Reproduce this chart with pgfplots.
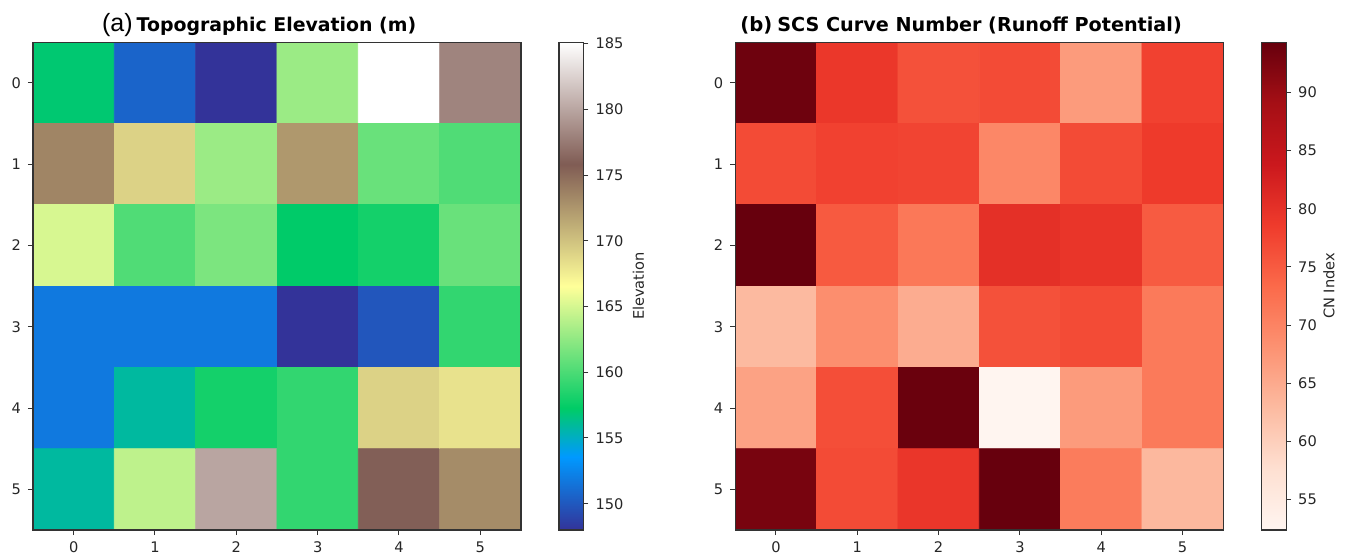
\documentclass[border=0pt]{standalone}
\usepackage{pgfplots}
\usepackage{pgfplotstable}
\pgfplotsset{compat=1.18}
\usepackage{fontspec}
\setmainfont{DejaVu Sans}
\newfontfamily\arialfont{Liberation Sans}

\pgfplotsset{
  colormap={terrain}{rgb255(0cm)=(51,51,153) rgb255(3cm)=(0,153,255) rgb255(5cm)=(0,204,102)
    rgb255(10cm)=(255,255,153) rgb255(15cm)=(128,92,84) rgb255(20cm)=(255,255,255)},
  colormap={reds}{rgb255(0cm)=(255,245,240) rgb255(1cm)=(254,224,210) rgb255(2cm)=(252,187,161)
    rgb255(3cm)=(252,146,114) rgb255(4cm)=(251,106,74) rgb255(5cm)=(239,59,44)
    rgb255(6cm)=(203,24,29) rgb255(7cm)=(165,15,21) rgb255(8cm)=(103,0,13)},
  every axis/.append style={
    /pgf/number format/assume math mode=true,
    tick label style={font=\fontsize{7.3}{8}\selectfont, text=black!85},
    axis line style={black!80, line width=0.6pt},
    tick style={black!80, line width=0.5pt},
    tick align=outside, major tick length=2.5pt,
  },
  heat/.style={
    scale only axis, width=244pt, height=243.9pt,
    xmin=-0.5, xmax=5.5, ymin=-0.5, ymax=5.5,
    xtick={0,...,5}, ytick={0,...,5}, yticklabels={5,4,3,2,1,0},
    tick pos=left, enlargelimits=false, axis on top,
    colorbar,
  },
}

% cell values, r = row from top, c = column
\pgfplotstableread{
c r v
0 0 157.0
1 0 150.7
2 0 148.0
3 0 162.9
4 0 185.1
5 0 178.1
0 1 173.5
1 1 169.1
2 1 162.9
3 1 172.4
4 1 161.1
5 1 160.2
0 2 165.1
1 2 160.2
2 2 161.8
3 2 157.2
4 2 158.0
5 2 161.1
0 3 151.8
1 3 151.8
2 3 151.8
3 3 148.0
4 3 149.9
5 3 159.1
0 4 151.8
1 4 155.9
2 4 158.0
3 4 159.1
4 4 169.1
5 4 168.2
0 5 155.9
1 5 164.2
2 5 180.0
3 5 159.1
4 5 176.0
5 5 173.1
}\elevation

\pgfplotstableread{
c r v
0 0 93.7
1 0 79.2
2 0 76.2
3 0 76.8
4 0 67.0
5 0 77.9
0 1 76.8
1 1 77.9
2 1 77.6
3 1 69.6
4 1 76.8
5 1 78.8
0 2 94.3
1 2 75.1
2 2 71.5
3 2 80.2
4 2 79.5
5 2 75.0
0 3 63.0
1 3 68.6
2 3 64.8
3 3 76.2
4 3 76.8
5 3 71.3
0 4 66.1
1 4 76.5
2 4 94.1
3 4 52.4
4 4 67.0
5 4 71.3
0 5 92.9
1 5 76.8
2 5 79.4
3 5 94.3
4 5 71.0
5 5 63.2
}\curvenumber

\begin{document}
\begin{tikzpicture}
\path[use as bounding box] (0,0) rectangle (674.5pt,277pt);

\begin{axis}[heat, at={(16.5pt,12pt)}, anchor=south west,
  colormap name=terrain, point meta min=148, point meta max=185.1,
  colorbar style={at={(parent axis.north east)}, anchor=north west, xshift=10.5pt,
    width=12.3pt, ytick={150,155,...,185}, ytick pos=right, yticklabel pos=right,
    tick align=outside, major tick length=2.4pt}]
\addplot[matrix plot*, mesh/cols=6, point meta=explicit]
  table[x=c, y expr=5-\thisrow{r}, meta=v] {\elevation};
\end{axis}

\begin{axis}[heat, at={(367.65pt,12pt)}, anchor=south west,
  colormap name=reds, point meta min=52.4, point meta max=94.3,
  colorbar style={at={(parent axis.north east)}, anchor=north west, xshift=10.7pt,
    width=12.3pt, ytick={55,60,...,90}, ytick pos=right, yticklabel pos=right,
    tick align=outside, major tick length=2.4pt}]
\addplot[matrix plot*, mesh/cols=6, point meta=explicit]
  table[x=c, y expr=5-\thisrow{r}, meta=v] {\curvenumber};
\end{axis}

\node[anchor=base west, inner sep=0pt] at (50.85pt,261.5pt)
  {{\arialfont\fontsize{12.5}{13}\selectfont (a)}\hspace{2pt}{\fontsize{9.45}{10}\selectfont\bfseries Topographic Elevation (m)}};
\node[anchor=base west, inner sep=0pt] at (370pt,261.5pt)
  {{\fontsize{9.8}{10}\selectfont\bfseries (b)}\hspace{2.5pt}{\fontsize{9.6}{10}\selectfont\bfseries SCS Curve Number (Runoff Potential)}};
\node[rotate=90, inner sep=0pt, text=black!85] at (319.15pt,134pt) {\fontsize{7.3}{8}\selectfont Elevation};
\node[rotate=90, inner sep=0pt, text=black!85] at (664.5pt,134pt) {\fontsize{7.3}{8}\selectfont CN Index};
\end{tikzpicture}
\end{document}
